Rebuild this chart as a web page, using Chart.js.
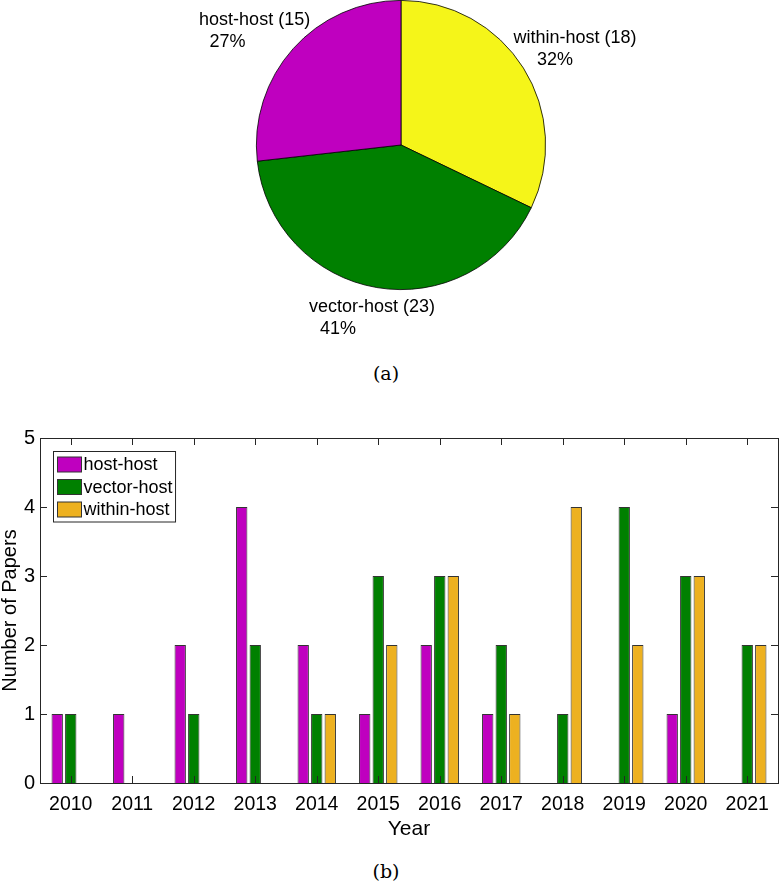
<!DOCTYPE html>
<html>
<head>
<meta charset="utf-8">
<script src="https://cdn.jsdelivr.net/npm/chart.js@4.4.0/dist/chart.umd.min.js"></script>
<style>
  body { margin: 0; background: #fff; width: 779px; height: 885px; position: relative; overflow: hidden; }
  .box { position: absolute; left: 0; width: 779px; }
  .caption { position: absolute; width: 100px; margin-left: -50px; text-align: center;
    font-family: "DejaVu Serif", "Liberation Serif", serif; font-size: 19px; color: #000; }
</style>
</head>
<body>
<div class="box" style="top:0;height:360px"><canvas id="pie"></canvas></div>
<div class="caption" style="left:386px;top:362px">(a)</div>
<div class="box" style="top:400px;height:450px"><canvas id="bars"></canvas></div>
<div class="caption" style="left:386px;top:860px">(b)</div>

<script>
// ---- data ----
var pieLabels = ['within-host', 'vector-host', 'host-host'];
var pieCounts = [18, 23, 15];

var years = ['2010', '2011', '2012', '2013', '2014', '2015', '2016', '2017', '2018', '2019', '2020', '2021'];
var hostHost   = [1, 1, 2, 4, 2, 1, 2, 1, 0, 0, 1, 0];
var vectorHost = [1, 0, 1, 2, 1, 3, 3, 2, 1, 4, 3, 2];
var withinHost = [0, 0, 0, 0, 1, 2, 3, 1, 4, 2, 3, 2];
var yTicks = [0, 1, 2, 3, 4, 5];

// ---- style ----
var MAGENTA = '#bf00bf', GREEN = '#008000', YELLOW = '#f5f519', GOLD = '#edb120';
var FONT = '"Liberation Sans", Arial, Helvetica, sans-serif';
// label nudges (px) relative to the point at 1.2 x radius on the slice mid-angle
var labelNudge = [
  { dx1: 27, dx2: 7, dy: -4 },
  { dx1: 0, dx2: -34, dy: 2 },
  { dx1: -17, dx2: -44, dy: 2 }
];

var pieLabelPlugin = {
  id: 'pieLabels',
  afterDraw: function (chart) {
    var ctx = chart.ctx;
    var arcs = chart.getDatasetMeta(0).data;
    var data = chart.data.datasets[0].data;
    var total = data.reduce(function (a, b) { return a + b; }, 0);
    ctx.save();
    ctx.font = '18px ' + FONT;
    ctx.fillStyle = '#000';
    ctx.textAlign = 'center';
    ctx.textBaseline = 'middle';
    arcs.forEach(function (arc, i) {
      var mid = (arc.startAngle + arc.endAngle) / 2;
      var r = arc.outerRadius * 1.2;
      var ax = arc.x + Math.cos(mid) * r;
      var ay = arc.y + Math.sin(mid) * r;
      var n = labelNudge[i];
      var pct = Math.round(data[i] / total * 100) + '%';
      ctx.fillText(chart.data.labels[i] + ' (' + data[i] + ')', ax + n.dx1, ay + n.dy - 11);
      ctx.fillText(pct, ax + n.dx2, ay + n.dy + 11);
    });
    ctx.restore();
  }
};

new Chart(document.getElementById('pie'), {
  type: 'pie',
  data: {
    labels: pieLabels,
    datasets: [{
      data: pieCounts,
      backgroundColor: [YELLOW, GREEN, MAGENTA],
      borderColor: '#000',
      borderWidth: 0.8
    }]
  },
  options: {
    responsive: true,
    maintainAspectRatio: false,
    animation: false,
    layout: { padding: { left: 256, right: 233, top: 0, bottom: 70 } },
    plugins: { legend: { display: false }, tooltip: { enabled: false } }
  },
  plugins: [pieLabelPlugin]
});

// frame, inward ticks and legend box in MATLAB style
var framePlugin = {
  id: 'matlabFrame',
  afterDatasetsDraw: function (chart) {
    var ctx = chart.ctx, a = chart.chartArea;
    var xs = chart.scales.x, ys = chart.scales.y;
    var tl = 7;
    ctx.save();
    ctx.strokeStyle = '#262626';
    ctx.lineWidth = 1;
    ctx.beginPath();
    xs.ticks.forEach(function (t, i) {
      var px = Math.round(xs.getPixelForTick(i)) + 0.5;
      ctx.moveTo(px, a.bottom); ctx.lineTo(px, a.bottom - tl);
      ctx.moveTo(px, a.top); ctx.lineTo(px, a.top + tl);
    });
    ys.ticks.forEach(function (t) {
      var py = Math.round(ys.getPixelForValue(t.value)) + 0.5;
      ctx.moveTo(a.left, py); ctx.lineTo(a.left + tl, py);
      ctx.moveTo(a.right, py); ctx.lineTo(a.right - tl, py);
    });
    ctx.stroke();
    ctx.strokeRect(Math.round(a.left) + 0.5, Math.round(a.top) + 0.5,
      Math.round(a.right - a.left), Math.round(a.bottom - a.top));

    // legend
    ctx.font = '18px ' + FONT;
    var sets = chart.data.datasets;
    var maxW = 0;
    sets.forEach(function (d) { maxW = Math.max(maxW, ctx.measureText(d.label).width); });
    var bx = Math.round(a.left) + 13.5, by = Math.round(a.top) + 13.5;
    var rowH = 22.5, sw = 24, sh = 15;
    var bw = 4 + sw + 2 + maxW + 3, bh = rowH * sets.length + 3;
    ctx.fillStyle = '#fff';
    ctx.fillRect(bx, by, bw, bh);
    ctx.strokeStyle = '#262626';
    ctx.strokeRect(bx, by, bw, bh);
    ctx.textAlign = 'left';
    ctx.textBaseline = 'middle';
    sets.forEach(function (d, i) {
      var cy = by + 13 + i * rowH;
      ctx.fillStyle = d.backgroundColor;
      ctx.fillRect(bx + 4, cy - sh / 2, sw, sh);
      ctx.strokeStyle = '#333';
      ctx.strokeRect(bx + 4, cy - sh / 2, sw, sh);
      ctx.fillStyle = '#000';
      ctx.fillText(d.label, bx + 4 + sw + 2, cy + 1);
    });
    ctx.restore();
  }
};

function barSet(label, values, color) {
  return {
    label: label,
    data: values,
    backgroundColor: color,
    borderColor: '#333',
    borderWidth: 1,
    borderSkipped: 'start',
    categoryPercentage: 0.66,
    barPercentage: 0.84
  };
}

new Chart(document.getElementById('bars'), {
  type: 'bar',
  data: {
    labels: years,
    datasets: [
      barSet('host-host', hostHost, MAGENTA),
      barSet('vector-host', vectorHost, GREEN),
      barSet('within-host', withinHost, GOLD)
    ]
  },
  options: {
    responsive: true,
    maintainAspectRatio: false,
    animation: false,
    layout: { padding: { left: 0, right: 1, top: 38, bottom: 0 } },
    plugins: { legend: { display: false }, tooltip: { enabled: false } },
    scales: {
      x: {
        grid: { display: false, drawTicks: false },
        border: { display: false },
        ticks: { color: '#000', font: { family: FONT, size: 19.5 }, padding: 10, maxRotation: 0 },
        title: { display: true, text: 'Year', color: '#000', font: { family: FONT, size: 21 }, padding: { top: 0, bottom: 8 } },
        afterFit: function (s) { s.height = 67; }
      },
      y: {
        min: 0, max: 5,
        afterBuildTicks: function (s) { s.ticks = yTicks.map(function (v) { return { value: v }; }); },
        grid: { display: false, drawTicks: false },
        border: { display: false },
        ticks: { color: '#000', font: { family: FONT, size: 20 }, padding: 5 },
        title: { display: true, text: 'Number of Papers', color: '#000', font: { family: FONT, size: 20, lineHeight: 1.05 }, padding: { top: 0, bottom: 0 } },
        afterFit: function (s) { s.width = 40; }
      }
    }
  },
  plugins: [framePlugin]
});
</script>
</body>
</html>
